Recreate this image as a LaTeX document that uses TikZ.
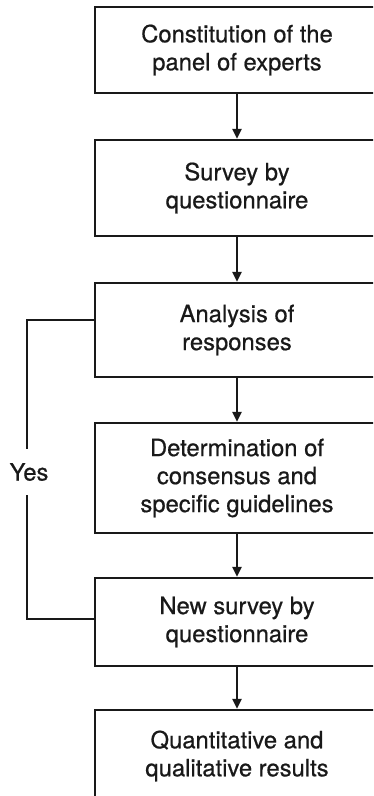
\documentclass[tikz,border=0pt]{standalone}
\usepackage{fontspec}
\setmainfont{TeX Gyre Heros}
\newfontfamily\medfont{TeX Gyre Heros}[FakeBold=0.6]
\usetikzlibrary{arrows.meta}
\begin{document}
\begin{tikzpicture}[x=1pt,y=-1pt,
  box/.style={draw=black!90, line width=2.2pt, minimum width=284pt, align=center,
    font=\medfont\fontsize{23.8}{28}\selectfont, inner sep=0pt, text=black!90},
  arr/.style={-{Triangle[width=9pt,length=10pt]}, line width=2.2pt, draw=black!90},
  loopline/.style={line width=2.2pt, draw=black!90},
  lbl/.style={font=\medfont\fontsize{23.8}{28}\selectfont, inner sep=0pt, minimum height=46pt, text=black!90}]
\useasboundingbox (0,0) rectangle (373,796);
\clip (0,0) rectangle (373,796);
\node[box, minimum height=86pt] (b1) at (237,50) {Constitution of the\\panel of experts};
\node[box, minimum height=96pt] (b2) at (237,188) {Survey by\\questionnaire};
\node[box, minimum height=94pt] (b3) at (237,330) {Analysis of\\responses};
\node[box, minimum height=110pt] (b4) at (237,478) {Determination of\\consensus and\\specific guidelines};
\node[box, minimum height=88pt] (b5) at (237,622) {New survey by\\questionnaire};
\node[box, minimum height=92pt] (b6) at (237,756) {Quantitative and\\qualitative results};
\draw[arr] (b1) -- (b2);
\draw[arr] (b2) -- (b3);
\draw[arr] (b3) -- (b4);
\draw[arr] (b4) -- (b5);
\draw[arr] (b5) -- (b6);
\node[lbl] (yes) at (29,472) {Yes};
\coordinate (t1) at (27,320);
\coordinate (t2) at (27,619);
\draw[loopline] (b3.west |- t1) -- (t1) -- (t1 |- yes.north);
\draw[loopline] (t1 |- yes.south) -- (t2) -- (b5.west |- t2);
\end{tikzpicture}
\end{document}
